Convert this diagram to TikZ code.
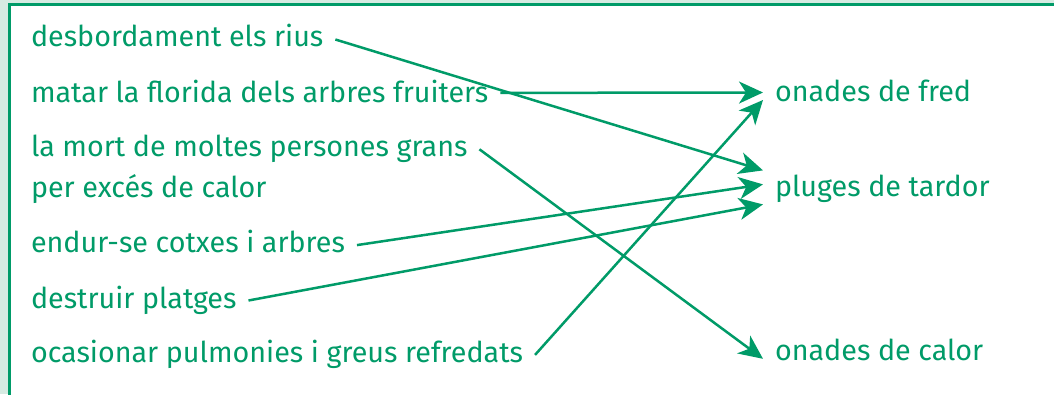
\documentclass[tikz,border=0pt]{standalone}
\usepackage{fontspec}
\setmainfont{Fira Sans}
\usetikzlibrary{positioning, arrows.meta}
\definecolor{verd}{RGB}{0,155,104}
\definecolor{verdclar}{RGB}{214,235,226}
\tikzset{every picture/.style={x=1pt, y=1pt}}
\tikzset{
  frase/.style={text=verd, font=\fontsize{28.7}{28.7}\selectfont, inner sep=0pt,
    text height=20pt, text depth=5pt, outer xsep=12pt},
  fletxa/.style={draw=verd, line width=2.5pt, -{Stealth[length=24pt, width=22pt, inset=7pt]}}
}

\begin{document}
\begin{tikzpicture}
		\useasboundingbox (0,0) rectangle (1054,394);
		\fill[verdclar] (0,0) rectangle (1054,394);
		\draw[verd, line width=3pt, fill=white] (9.5,-20) rectangle (1080,389);
		
		\node(desb) [frase, anchor=west] at (19,354.5) {desbordament els rius};
		\node(matar) [frase, below right=30pt and 0pt of desb.south west, anchor=north west] {matar la florida dels arbres fruiters};
		\node(mort) [frase, below right=29pt and 0pt of matar.south west, anchor=north west] {la mort de moltes persones grans};
		\node(exces) [frase, below right=15pt and 0pt of mort.south west, anchor=north west] {per excés de calor};
		\node(endur) [frase, below right=30pt and 0pt of exces.south west, anchor=north west] {endur-se cotxes i arbres};
		\node(platges) [frase, below right=30pt and 0pt of endur.south west, anchor=north west] {destruir platges};
		\node(pulmo) [frase, below right=29pt and 0pt of platges.south west, anchor=north west] {ocasionar pulmonies i greus refredats};
		
		\node(fred) [frase, anchor=west] at (763,299.5) {onades de fred};
		\node(pluges) [frase, below right=69pt and 0pt of fred.south west, anchor=north west] {pluges de tardor};
		\node(calor) [frase, below right=139pt and 0pt of pluges.south west, anchor=north west] {onades de calor};
		
		\draw[fletxa] (desb.east) -- ([yshift=18.5pt]pluges.west);
		\draw[fletxa] ([yshift=2pt]matar.east) -- ([yshift=2pt]fred.west);
		\draw[fletxa] (mort.east) -- ([yshift=-5.5pt]calor.west);
		\draw[fletxa] (endur.east) -- ([yshift=4.5pt]pluges.west);
		\draw[fletxa] (platges.east) -- ([yshift=-15.5pt]pluges.west);
		\draw[fletxa] (pulmo.east) -- ([yshift=-5.5pt]fred.west);
		
\end{tikzpicture}
\end{document}
